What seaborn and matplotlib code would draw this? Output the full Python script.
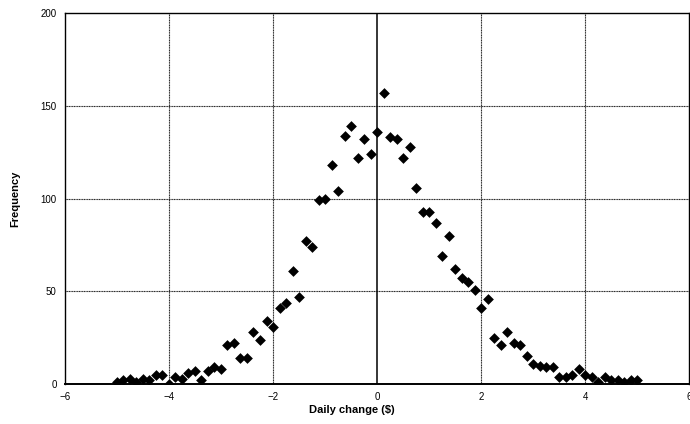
import matplotlib
matplotlib.use("Agg")
import matplotlib.pyplot as plt
import seaborn as sns
import pandas as pd

# ── Data (bin centre, count) ────────────────────────────────────────────────
daily_change = [
    -5.0, -4.875, -4.75, -4.625, -4.5, -4.375, -4.25, -4.125, -4.0,
    -3.875, -3.75, -3.625, -3.5, -3.375, -3.25, -3.125, -3.0,
    -2.875, -2.75, -2.625, -2.5, -2.375, -2.25, -2.125, -2.0,
    -1.875, -1.75, -1.625, -1.5, -1.375, -1.25, -1.125, -1.0,
    -0.875, -0.75, -0.625, -0.5, -0.375, -0.25, -0.125, 0.0,
    0.125, 0.25, 0.375, 0.5, 0.625, 0.75, 0.875, 1.0,
    1.125, 1.25, 1.375, 1.5, 1.625, 1.75, 1.875, 2.0,
    2.125, 2.25, 2.375, 2.5, 2.625, 2.75, 2.875, 3.0,
    3.125, 3.25, 3.375, 3.5, 3.625, 3.75, 3.875, 4.0,
    4.125, 4.25, 4.375, 4.5, 4.625, 4.75, 4.875, 5.0,
]
frequency = [
    1, 2, 3, 1, 3, 2, 5, 5, 0,
    4, 3, 6, 7, 2, 7, 9, 8,
    21, 22, 14, 14, 28, 24, 34, 31,
    41, 44, 61, 47, 77, 74, 99, 100,
    118, 104, 134, 139, 122, 132, 124, 136,
    157, 133, 132, 122, 128, 106, 93, 93,
    87, 69, 80, 62, 57, 55, 51, 41,
    46, 25, 21, 28, 22, 21, 15, 11,
    10, 9, 9, 4, 4, 5, 8, 5,
    4, 1, 4, 2, 2, 1, 2, 2,
]
x_ticks = [-6, -4, -2, 0, 2, 4, 6]
y_ticks = [0, 50, 100, 150, 200]

df = pd.DataFrame({"change": daily_change, "freq": frequency})

# ── Style ────────────────────────────────────────────────────────────────────
sns.set_style("white")
plt.rcParams['font.family'] = ['Liberation Sans', 'DejaVu Sans']

fig, ax = plt.subplots(figsize=(6.9, 4.24), dpi=100)
fig.subplots_adjust(left=0.094, right=0.999, top=0.969, bottom=0.094)

# dotted grid, solid line at zero
for v in [-4, -2, 2, 4]:
    ax.axvline(v, color='#222222', linewidth=0.8, linestyle=(0, (1, 0.5)), zorder=1)
for v in [50, 100, 150]:
    ax.axhline(v, color='#222222', linewidth=0.8, linestyle=(0, (1, 0.5)), zorder=1)
ax.axvline(0, color='black', linewidth=1.1, zorder=1)

sns.scatterplot(data=df, x="change", y="freq", marker='D', color='black',
                s=30, edgecolor='black', linewidth=0, ax=ax, zorder=3)

ax.set_xlim(-6, 6)
ax.set_ylim(0, 200)
ax.set_xticks(x_ticks)
ax.set_yticks(y_ticks)
ax.tick_params(axis='both', labelsize=7, length=0, pad=6, colors='black')

for side in ['left', 'bottom', 'top', 'right']:
    ax.spines[side].set_color('black')
    ax.spines[side].set_linewidth(1.0)
ax.spines['bottom'].set_linewidth(1.4)

ax.set_xlabel("Daily change ($)", fontsize=8, fontweight='bold', color='black')
ax.set_ylabel("Frequency", fontsize=8, fontweight='bold', color='black')
ax.xaxis.set_label_coords(0.459, -0.055)
ax.yaxis.set_label_coords(-0.072, 0.5)

fig.savefig("out.png", dpi=100)
